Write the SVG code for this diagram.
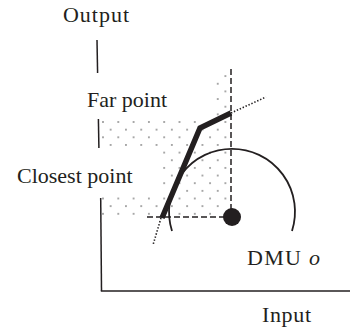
<svg xmlns="http://www.w3.org/2000/svg" width="350" height="331" viewBox="0 0 350 331">
  <style>
    .axis { stroke: #231f20; stroke-width: 1.5; fill: none; }
    .dash { stroke: #231f20; stroke-width: 1.5; fill: none; stroke-dasharray: 6 3; }
    .dotln { stroke: #231f20; stroke-width: 1.6; fill: none; stroke-dasharray: 1.4 1.8; }
  </style>
  <defs>
    <pattern id="stipple" patternUnits="userSpaceOnUse" x="99.175" y="118.175" width="15.3" height="15.3">
      <circle cx="3.825" cy="3.825" r="0.85" fill="#7a7a7a"/>
      <circle cx="11.475" cy="11.475" r="0.85" fill="#7a7a7a"/>
    </pattern>
  </defs>
  <rect width="350" height="331" fill="#ffffff"/>

  <g id="region">
    <path d="M101,118 H214 V72 H230 V216 H101 V194 H160 V148 H101 Z" fill="url(#stipple)"/>
  </g>

  <g id="axes">
    <line class="axis" x1="97" y1="40" x2="97.6" y2="73"/>
    <line class="axis" x1="98.4" y1="119" x2="98.9" y2="148"/>
    <line class="axis" x1="100.7" y1="198" x2="101.5" y2="291"/>
    <line class="axis" x1="100.8" y1="291" x2="350" y2="291"/>
  </g>

  <g id="connectors">
    <line class="dash" x1="231" y1="69" x2="231" y2="212"/>
    <line class="dash" x1="147" y1="217" x2="226" y2="217"/>
    <line class="dotln" x1="231" y1="113" x2="266" y2="97"/>
    <line class="dotln" x1="161" y1="218" x2="153" y2="245"/>
  </g>

  <g id="frontier">
    <polyline points="162,218 200,128 231,113" fill="none" stroke="#231f20" stroke-width="5.5" stroke-linejoin="miter"/>
  </g>

  <g id="arc">
    <path d="M172,231 A63,63 0 1 1 292,231" fill="none" stroke="#231f20" stroke-width="1.8"/>
  </g>

  <g id="dmu">
    <circle cx="232" cy="217" r="9" fill="#231f20"/>
  </g>

  <g id="labels" font-family="'Liberation Serif', 'Times New Roman', Times, serif" font-size="22" fill="#231f20">
    <text x="63" y="21.5" textLength="66">Output</text>
    <text x="87" y="107">Far point</text>
    <text x="17" y="183">Closest point</text>
    <text x="247" y="265" textLength="73">DMU <tspan font-style="italic">o</tspan></text>
    <text x="262" y="322" textLength="49">Input</text>
  </g>
</svg>
